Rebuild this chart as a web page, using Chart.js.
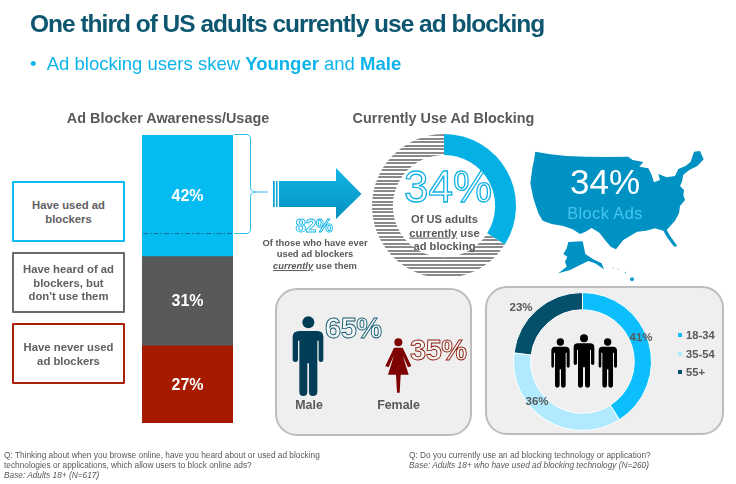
<!DOCTYPE html>
<html><head><meta charset="utf-8">
<script src="https://cdn.jsdelivr.net/npm/chart.js@4"></script>
<style>
html,body{margin:0;padding:0;background:#fff;}
#page{position:relative;width:736px;height:484px;overflow:hidden;font-family:"Liberation Sans",Arial,sans-serif;color:#58595B;filter:blur(0.3px);}
#page>*{position:absolute;}
.t{white-space:nowrap;}
.box{box-sizing:border-box;background:#fff;border:2px solid;display:flex;align-items:center;justify-content:center;text-align:center;font-weight:bold;font-size:11.3px;line-height:13.6px;color:#5f6062;border-radius:1px;padding-top:2px;}
.panel{box-sizing:border-box;background:#EFEFEF;border:2px solid #BDBDBD;border-radius:22px;}
.big{font-weight:bold;color:#fff;}
.c{transform:translate(-50%,-50%);text-align:center;}
canvas{display:block;}
</style></head><body><div id="page">

<div class="t" id="title" style="left:30px;top:8px;font-size:24.5px;font-weight:bold;color:#0D5670;letter-spacing:-1px;line-height:32px;">One third of US adults currently use ad blocking</div>
<div class="t" id="sub" style="left:30px;top:53px;font-size:18.5px;color:#0DB4E9;line-height:22px;">•&nbsp;&nbsp;Ad blocking users skew <b>Younger</b> and <b>Male</b></div>

<div class="t c" style="left:168px;top:118px;font-size:14.4px;font-weight:bold;">Ad Blocker Awareness/Usage</div>
<div class="t c" style="left:443.5px;top:118px;font-size:14.4px;font-weight:bold;">Currently Use Ad Blocking</div>

<div class="box" style="left:12px;top:181px;width:113px;height:61px;border-color:#0DBDF2;">Have used ad<br>blockers</div>
<div class="box" style="left:12px;top:252px;width:113px;height:61px;border-color:#6A6A6A;">Have heard of ad<br>blockers, but<br>don't use them</div>
<div class="box" style="left:12px;top:323px;width:113px;height:61px;border-color:#A8200A;">Have never used<br>ad blockers</div>

<div style="left:142px;top:135px;width:91px;height:288px;"><canvas id="barChart" width="91" height="288"></canvas></div>

<svg style="left:0;top:0;" width="736" height="484" viewBox="0 0 736 484">
  <defs><linearGradient id="ag" x1="0" y1="0" x2="0" y2="1"><stop offset="0" stop-color="#11B6E6"/><stop offset="1" stop-color="#0590BE"/></linearGradient></defs>
  <line x1="143" y1="233.5" x2="233" y2="233.5" stroke="#0B6F8E" stroke-width="1" stroke-dasharray="5 2 1.5 2"/>
  <path d="M234 134.5 H246 Q250.5 134.5 250.5 139 V187 Q250.5 192 256 192 H268 M256 192 Q250.5 192 250.5 197 V229 Q250.5 233.5 246 233.5 H234" fill="none" stroke="#2FC0EE" stroke-width="1"/>
  <rect x="273" y="181" width="1.8" height="26" fill="#0FA6D6"/><rect x="276" y="181" width="1.6" height="26" fill="#0FA6D6"/>
  <path d="M279 181 H336 V168 L361.5 194 L336 219 V207 H279 Z" fill="url(#ag)"/>
</svg>

<div class="t c big" style="left:314px;top:225px;font-size:19px;line-height:15px;-webkit-text-stroke:0.9px #13B5EA;letter-spacing:-0.4px;">82%</div>
<div class="t c" style="left:315px;top:254px;font-size:9.4px;font-weight:bold;line-height:11.3px;">Of those who have ever<br>used ad blockers<br><i><u>currently</u></i> use them</div>

<div style="left:372px;top:134px;width:144px;height:144px;"><canvas id="currentChart" width="144" height="144"></canvas></div>
<div class="t c" style="left:448px;top:187px;font-size:44px;line-height:34px;color:#fff;-webkit-text-stroke:1.3px #0FB0E6;font-weight:normal;">34%</div>
<div class="t c" style="left:444.5px;top:233px;font-size:11.2px;font-weight:bold;line-height:13.6px;">Of US adults<br><u>currently</u> use<br>ad blocking</div>

<svg style="left:350px;top:100px;filter:blur(0.5px);" width="386" height="190" viewBox="0 0 1158 570">
  <path fill="#0192C4" d="M556 155 L600 163 L650 168 L705 170 L770 171 L835 170 L848 180 L880 186 L868 200 L895 205 L905 225 L912 247 L930 240 L925 222 L950 232 L975 228 L985 207 L1008 197 L1022 185 L1032 155 L1050 153 L1061 178 L1042 198 L1018 210 L1000 224 L996 245 L990 258 L1002 270 L1000 285 L1005 300 L990 318 L987 340 L975 362 L950 390 L962 410 L982 438 L972 440 L950 410 L940 392 L915 385 L888 392 L862 395 L850 402 L820 420 L798 448 L782 440 L765 420 L748 398 L725 384 L705 396 L690 402 L668 388 L640 378 L605 372 L578 362 L565 340 L550 295 L541 250 L547 205 L552 180 Z"/>
  <path fill="#0192C4" d="M655 426 L698 424 L706 462 L730 478 L755 490 L762 508 L735 490 L715 483 L690 495 L660 510 L625 520 L650 500 L645 485 L652 470 L640 462 L650 445 Z"/>
  <circle cx="846" cy="538" r="6" fill="#0C9CCB"/><circle cx="826" cy="518" r="2.4" fill="#7CC8E2"/><circle cx="805" cy="508" r="2.2" fill="#9AD5E8"/><circle cx="790" cy="503" r="2" fill="#9AD5E8"/>
</svg>
<div class="t c" style="left:605px;top:182px;font-size:35px;line-height:30px;color:#fff;">34%</div>
<div class="t c" style="left:605px;top:213px;font-size:16.4px;line-height:17px;color:#45C4EE;letter-spacing:0.4px;">Block Ads</div>

<div class="panel" style="left:275px;top:288px;width:197px;height:148px;"></div>
<div class="panel" style="left:485px;top:286px;width:239px;height:149px;"></div>

<svg style="left:270px;top:280px;" width="466" height="204" viewBox="0 0 1398 612">
  <g id="man" fill="#023D58">
    <circle cx="115" cy="127" r="18"/>
    <path d="M88 153 H142 Q160 153 160 172 V238 Q160 246 153 246 Q146 246 146 238 V182 H142 V335 Q142 348 128 348 Q117 348 117 335 V250 H112 V335 Q112 348 100 348 Q88 348 88 335 V182 H84 V238 Q84 246 76 246 Q68 246 68 238 V172 Q68 153 88 153 Z"/>
  </g>
  <g fill="#7E0202">
    <circle cx="385" cy="187" r="12"/>
    <path d="M372 203 H398 L424 258 L414 262 L398 226 L416 284 H392 L389 338 H381 L378 284 H354 L372 226 L356 262 L346 258 Z"/>
  </g>
  <g fill="#000">
    <g id="p1">
      <circle cx="871" cy="186" r="11"/>
      <path d="M855 200 H887 Q899 200 899 212 V258 Q899 263 895 263 Q890 263 890 258 V218 H887 V316 Q887 323 879 323 Q873 323 873 316 V268 H869 V316 Q869 323 862 323 Q855 323 855 316 V218 H852 V258 Q852 263 848 263 Q844 263 844 258 V212 Q844 200 855 200 Z"/>
    </g>
    <circle cx="942" cy="175" r="12"/>
    <path d="M924 190 H960 Q973 190 973 202 V250 Q973 255 968 255 Q963 255 963 250 V210 H960 V316 Q960 323 952 323 Q945 323 945 316 V262 H939 V316 Q939 323 932 323 Q924 323 924 316 V210 H921 V250 Q921 255 916 255 Q911 255 911 250 V202 Q911 190 924 190 Z"/>
    <use href="#p1" x="142"/>
  </g>
</svg>

<div class="t big" style="left:325px;top:313px;font-size:29px;line-height:30px;-webkit-text-stroke:0.9px #0E5A72;letter-spacing:-0.5px;color:#F6F6F6;">65%</div>
<div class="t big" style="left:410px;top:335px;font-size:29px;line-height:30px;-webkit-text-stroke:0.9px #8A1608;letter-spacing:-0.5px;color:#F6F6F6;">35%</div>
<div class="t c" style="left:309px;top:405px;font-size:12.4px;font-weight:bold;">Male</div>
<div class="t c" style="left:398.5px;top:405px;font-size:12.4px;font-weight:bold;">Female</div>

<div style="left:513px;top:292px;width:139px;height:139px;"><canvas id="ageChart" width="139" height="139"></canvas></div>

<div class="t" style="left:4px;top:450px;font-size:8.3px;line-height:10.2px;">Q: Thinking about when you browse online, have you heard about or used ad blocking<br>technologies or applications, which allow users to block online ads?<br><i>Base: Adults 18+ (N=617)</i></div>
<div class="t" style="left:409px;top:450px;font-size:8.3px;line-height:10.2px;">Q: Do you currently use an ad blocking technology or application?<br><i>Base: Adults 18+ who have used ad blocking technology (N=260)</i></div>
</div>

<script>
// Data
const awarenessCategories = ["Have used ad blockers", "Have heard of ad blockers, but don't use them", "Have never used ad blockers"];
const awarenessValues = [42, 31, 27];
const awarenessColors = ["#05BCF2", "#58595B", "#A61B00"];
const currentLabels = ["Currently use", "Do not currently use"];
const currentValues = [34, 66];
const ageLabels = ["18-34", "35-54", "55+"];
const ageValues = [41, 36, 23];
const ageColors = ["#0DBEFD", "#B1EAFE", "#04506B"];

Chart.defaults.font.family = '"Liberation Sans", Arial, sans-serif';
const noExtras = { legend: { display: false }, tooltip: { enabled: false } };

const barLabels = {
  id: "barLabels",
  afterDatasetsDraw(chart) {
    const ctx = chart.ctx;
    ctx.save();
    ctx.fillStyle = "#fff";
    ctx.font = 'bold 16px "Liberation Sans", Arial, sans-serif';
    ctx.textAlign = "center";
    ctx.textBaseline = "middle";
    chart.data.datasets.forEach((ds, i) => {
      const el = chart.getDatasetMeta(i).data[0];
      const p = el.getProps(["x", "y", "base"], true);
      ctx.fillText(ds.data[0] + "%", p.x, (p.y + p.base) / 2 + 1);
    });
    ctx.restore();
  }
};

new Chart(document.getElementById("barChart"), {
  type: "bar",
  data: {
    labels: ["All adults"],
    datasets: awarenessCategories.map((c, i) => ({
      label: c, data: [awarenessValues[i]], backgroundColor: awarenessColors[i],
      barPercentage: 1, categoryPercentage: 1, borderWidth: 0
    }))
  },
  options: {
    responsive: false, animation: false,
    layout: { padding: 0 },
    plugins: noExtras,
    scales: {
      x: { display: false, stacked: true },
      y: { display: false, stacked: true, reverse: true, min: 0, max: 100 }
    }
  },
  plugins: [barLabels]
});

function stripes() {
  const c = document.createElement("canvas");
  c.width = 4; c.height = 7;
  const g = c.getContext("2d");
  g.fillStyle = "#fff"; g.fillRect(0, 0, 4, 7);
  g.fillStyle = "#8A8A8A"; g.fillRect(0, 0, 4, 2); g.fillRect(0, 4, 4, 2);
  return g.createPattern(c, "repeat");
}

new Chart(document.getElementById("currentChart"), {
  type: "doughnut",
  data: { labels: currentLabels, datasets: [{ data: currentValues, backgroundColor: ["#05B0E4", stripes()], borderWidth: 0 }] },
  options: { responsive: false, animation: false, cutout: "71%", layout: { padding: 0 }, plugins: noExtras }
});

new Chart(document.getElementById("ageChart"), {
  type: "doughnut",
  data: { labels: ageLabels, datasets: [{ data: ageValues, backgroundColor: ageColors, borderColor: "#fff", borderWidth: 1 }] },
  options: { responsive: false, animation: false, cutout: "75%", layout: { padding: 0 }, plugins: noExtras }
});

const ageLabelSpots = [[641, 337], [537, 401], [521, 307]];
const page = document.getElementById("page");
ageValues.forEach((v, i) => {
  const d = document.createElement("div");
  d.className = "t c";
  d.textContent = v + "%";
  d.style.cssText = `left:${ageLabelSpots[i][0]}px;top:${ageLabelSpots[i][1]}px;font-size:11.5px;font-weight:bold;position:absolute;`;
  page.appendChild(d);
});
ageLabels.forEach((l, i) => {
  const y = 335 + i * 18.7;
  const s = document.createElement("div");
  s.style.cssText = `position:absolute;left:678px;top:${y - 2}px;width:4px;height:4px;background:${ageColors[i]};`;
  page.appendChild(s);
  const d = document.createElement("div");
  d.className = "t";
  d.textContent = l;
  d.style.cssText = `position:absolute;left:686px;top:${y - 7}px;font-size:11.2px;line-height:14px;font-weight:bold;`;
  page.appendChild(d);
});
</script>
</body></html>
